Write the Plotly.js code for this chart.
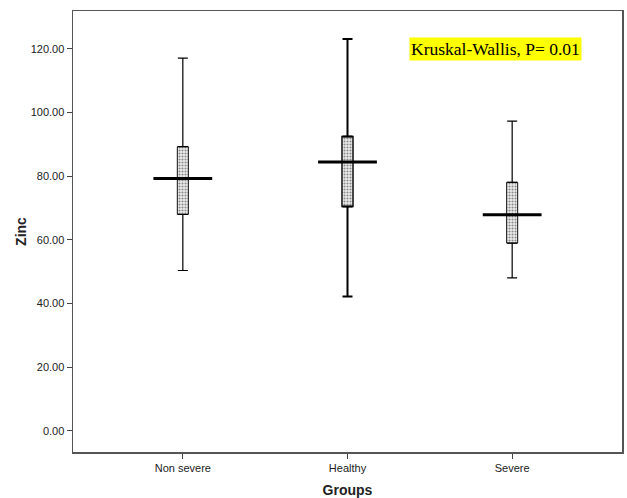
<!DOCTYPE html>
<html>
<head>
<meta charset="utf-8">
<script src="https://cdn.plot.ly/plotly-3.0.1.min.js"></script>
<style>html,body{margin:0;padding:0;background:#fff;}#chart{width:627px;height:498px;}</style>
</head>
<body>
<div id="chart"></div>
<script>
const groups = ['Non severe', 'Healthy', 'Severe'];
const lowerWhisker = [50.4, 42.2, 48.1];
const q1 = [68.0, 70.5, 59.0];
const median = [79.3, 84.5, 67.9];
const q3 = [89.3, 92.5, 78.1];
const upperWhisker = [117.1, 123.1, 97.3];
const yTickVals = [0, 20, 40, 60, 80, 100, 120];
const annotationText = 'Kruskal-Wallis, P= 0.01';

const lineWidths = [1.2, 2, 1.2];

const traces = [];
traces.push({
  type: 'bar',
  x: groups,
  base: q1,
  y: q3.map((v, i) => v - q1[i]),
  width: 0.067,
  marker: {
    color: '#e4e4e4',
    pattern: {shape: '.', fgcolor: '#8a8a8a', bgcolor: '#eeeeee', size: 3, solidity: 0.4},
    line: {color: '#111', width: [1, 1.5, 1]}
  },
  hoverinfo: 'skip',
  showlegend: false
});
groups.forEach((g, i) => {
  traces.push({
    type: 'scatter',
    mode: 'markers',
    x: [g, g],
    y: [q3[i], q1[i]],
    marker: {size: 1, color: 'rgba(0,0,0,0)'},
    error_y: {
      type: 'data', symmetric: false,
      array: [upperWhisker[i] - q3[i], 0],
      arrayminus: [0, q1[i] - lowerWhisker[i]],
      width: 5, thickness: lineWidths[i], color: '#000'
    },
    hoverinfo: 'skip',
    showlegend: false
  });
});
traces.push({
  type: 'scatter',
  mode: 'markers',
  x: groups,
  y: median,
  marker: {symbol: 'line-ew', size: 42, line: {width: 3, color: '#000'}, color: '#000'},
  hoverinfo: 'skip',
  showlegend: false
});

const layout = {
  width: 627, height: 498,
  margin: {l: 73, r: 5, t: 11, b: 46},
  paper_bgcolor: '#fff', plot_bgcolor: '#fff',
  font: {family: 'Liberation Sans, Arial, sans-serif', size: 11, color: '#222'},
  xaxis: {
    type: 'category',
    range: [-0.667, 2.667],
    showgrid: false, zeroline: false,
    showline: true, linecolor: '#555', linewidth: 1.5, mirror: true,
    ticks: 'outside', ticklen: 5, tickcolor: '#444',
    tickfont: {size: 11, color: '#222'},
    title: {text: '<b>Groups</b>', font: {size: 14, color: '#222'}, standoff: 22}
  },
  yaxis: {
    range: [-6.6, 131.9],
    tickvals: yTickVals,
    tickformat: '.2f',
    showgrid: false, zeroline: false,
    showline: true, linecolor: '#555', linewidth: 1.5, mirror: true,
    ticks: 'outside', ticklen: 5, tickcolor: '#444',
    tickfont: {size: 11, color: '#222'},
    title: {text: '<b>Zinc</b>', font: {size: 14, color: '#222'}, standoff: 0}
  },
  annotations: [{
    xref: 'paper', yref: 'paper',
    x: 0.769, y: 0.914, xanchor: 'center', yanchor: 'middle',
    text: annotationText, showarrow: false,
    bgcolor: '#ffff00', borderpad: 1,
    font: {family: 'Liberation Serif, Times New Roman, serif', size: 17.5, color: '#000'}
  }]
};

Plotly.newPlot('chart', traces, layout, {staticPlot: true, displayModeBar: false});
</script>
</body>
</html>
